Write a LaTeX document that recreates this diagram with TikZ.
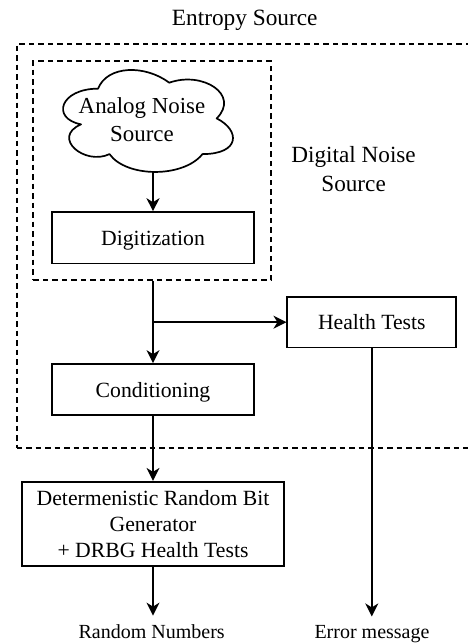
\documentclass[tikz,border=0pt]{standalone}
\usepackage{fontspec}
\setmainfont{Liberation Serif}
\usetikzlibrary{arrows.meta}

\tikzset{
  stroke/.style={line width=1.7pt},
  frame/.style={stroke, dash pattern=on 5.5pt off 4pt, draw, rectangle, inner sep=0pt},
  block/.style={stroke, draw, rectangle, inner sep=0pt, align=center,
    font=\fontsize{21.7}{26}\selectfont},
  oneline/.style={text height=15pt, text depth=0pt},
  caption/.style={inner sep=0pt, align=center},
  arr/.style={stroke, -{Stealth[length=13pt, width=13pt, inset=4pt]}},
}

\begin{document}
\begin{tikzpicture}[x=1pt, y=-1pt]
\useasboundingbox (0,0) rectangle (468,643);

% entropy source frame (open towards the right)
\node[frame, minimum width=500pt, minimum height=404.3pt] (entropy) at (266.7,246.15) {};
\node[caption, anchor=base, font=\fontsize{23.3}{28}\selectfont] (entropylbl) at (244.7,25.5) {Entropy Source};

% digital noise source frame
\node[frame, minimum width=237.7pt, minimum height=219pt] (digital) at (152.15,170.5) {};
\node[caption, font=\fontsize{23.2}{28.9}\selectfont] (digitallbl) at (353.6,169.4) {Digital Noise\\Source};

% analog noise source cloud
\begin{scope}[shift={(50.7,58.9)}, xscale=189.7, yscale=119]
  \draw[stroke, line join=round] (0.25,0.25)
    .. controls (0.05,0.25) and (0,0.5) .. (0.16,0.55)
    .. controls (0,0.66) and (0.18,0.9) .. (0.31,0.8)
    .. controls (0.4,1) and (0.7,1) .. (0.8,0.8)
    .. controls (1,0.8) and (1,0.6) .. (0.875,0.5)
    .. controls (1,0.3) and (0.8,0.1) .. (0.625,0.2)
    .. controls (0.5,0.05) and (0.3,0.05) .. cycle;
  \coordinate (cloudbottom) at (0.551,0.95);
\end{scope}
\node[caption, font=\fontsize{22.9}{28.4}\selectfont] (analog) at (142,119.7) {Analog Noise\\Source};

% processing blocks
\node[block, oneline, minimum width=202.6pt, minimum height=51.3pt] (dig) at (153,237.7) {Digitization};
\node[block, oneline, minimum width=202.6pt, minimum height=51pt] (cond) at (153,389.5) {Conditioning};
\node[block, oneline, minimum width=169pt, minimum height=50.3pt] (ht) at (371.8,322.2) {Health Tests};
\node[block, minimum width=261.7pt, minimum height=84.3pt] (drbg) at (153,523.9)
  {Determenistic Random Bit\\Generator\\+ DRBG Health Tests};

% outputs
\node[caption, anchor=base, inner ysep=8.3pt, font=\fontsize{20}{24}\selectfont] (rn) at (151.7,638) {Random Numbers};
\node[caption, anchor=base, inner ysep=8.3pt, font=\fontsize{20}{24}\selectfont] (em) at (372,638) {Error message};

% connectors
\draw[arr] (dig.north |- cloudbottom) -- (dig.north);
\draw[arr] (cond.north |- digital.south) -- (cond.north);
\draw[arr] (cond.north |- ht.west) -- (ht.west);
\draw[arr] (cond.south) -- (drbg.north);
\draw[arr] (drbg.south) -- (drbg.south |- rn.north);
\draw[arr] (ht.south) -- (ht.south |- em.north);
\end{tikzpicture}
\end{document}
